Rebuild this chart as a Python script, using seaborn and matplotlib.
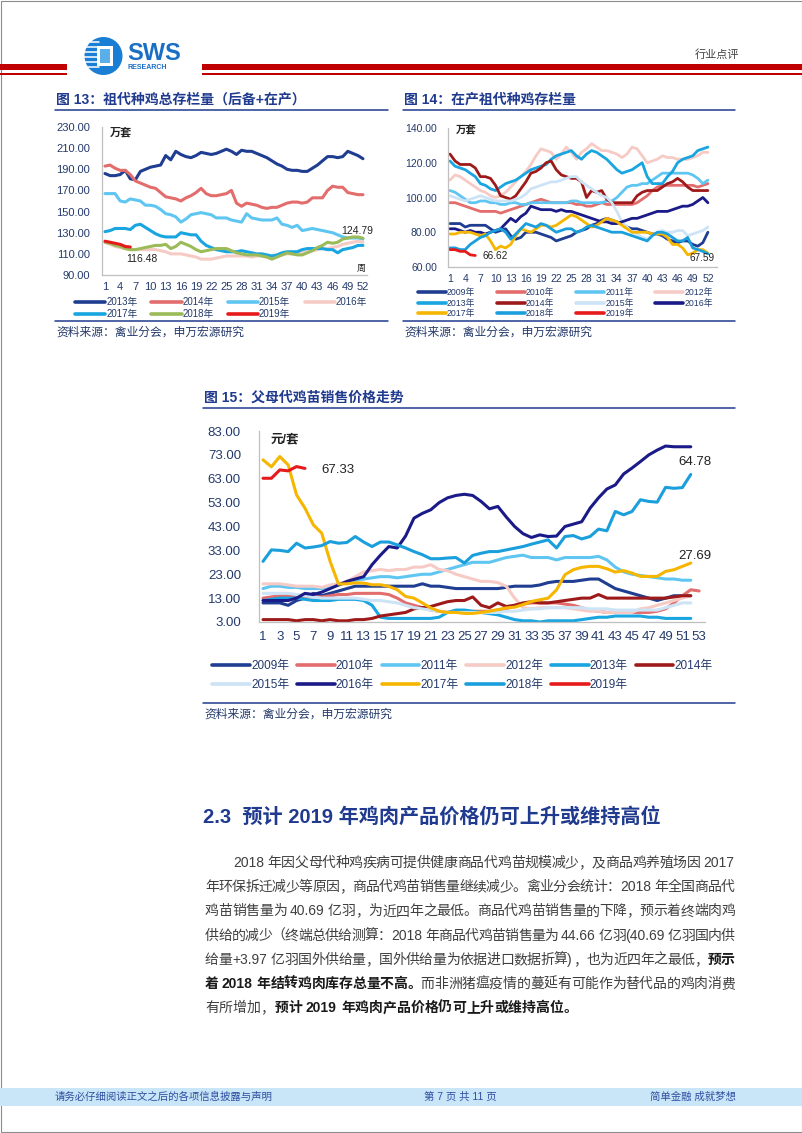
import re
import matplotlib
matplotlib.use("Agg")
import matplotlib.pyplot as plt
from matplotlib.patches import Rectangle, Ellipse
from matplotlib.lines import Line2D
import pandas as pd
import seaborn as sns

sns.set_theme(style="white")
plt.rcParams["font.family"] = ["Liberation Sans", "Noto Sans CJK SC"]

W, H = 802, 1133

# ---------------- 图13 祖代种鸡总存栏量 (万套), 周 1-52 ----------------
c13_2013 = [186, 184, 184, 185, 189, 181, 180, 188, 190, 192, 193, 194, 203, 199, 207, 204, 202, 201, 203, 206,
            205, 204, 205, 207, 209, 207, 204, 208, 207, 207, 205, 203, 201, 198, 195, 193, 190, 189, 189, 188,
            188, 191, 194, 198, 202, 202, 201, 202, 207, 205, 203, 200]
c13_2014 = [193, 194, 191, 189, 189, 185, 179, 177, 175, 173, 172, 168, 164, 163, 162, 160, 163, 165, 168, 172,
            167, 165, 165, 166, 167, 170, 158, 155, 158, 157, 156, 154, 153, 154, 154, 156, 158, 159, 159, 158,
            159, 163, 163, 163, 170, 174, 173, 173, 168, 167, 166, 166]
c13_2015 = [167, 167, 167, 160, 159, 162, 161, 160, 156, 156, 155, 152, 148, 147, 145, 140, 143, 147, 148, 149,
            148, 147, 144, 144, 144, 142, 141, 140, 148, 144, 143, 142, 142, 142, 144, 138, 137, 135, 137, 132,
            133, 134, 133, 132, 131, 130, 128, 126, 125, 125, 125, 124]
c13_2016 = [121, 119, 117, 116, 115, 114, 114, 114, 114, 114, 114, 113, 112, 110, 110, 110, 109, 108, 107, 105,
            105, 105, 106, 107, 108, 108, 108, 108, 108, 107, 108, 108, 107, 107, 108, 109, 110, 110, 110, 111,
            112, 113, 114, 115, 115, 116, 117, 119, 120, 121, 122, 121]
c13_2017 = [131, 132, 134, 134, 134, 133, 137, 138, 135, 132, 129, 127, 126, 126, 126, 130, 129, 128, 128, 122,
            118, 116, 114, 113, 112, 112, 112, 113, 112, 111, 110, 110, 109, 108, 109, 111, 112, 112, 112, 114,
            115, 115, 115, 115, 114, 114, 111, 114, 115, 116, 118, 118]
c13_2018 = [121, 120, 118, 117, 115, 114, 114, 115, 116, 117, 118, 118, 119, 115, 117, 121, 119, 117, 114, 112,
            113, 114, 115, 115, 115, 113, 111, 110, 109, 109, 109, 108, 107, 105, 107, 109, 111, 110, 109, 109,
            111, 113, 116, 118, 121, 120, 121, 124, 125, 126, 126, 124.79]
c13_2019 = [122, 121, 120, 119, 117, 116.48]

# ---------------- 图14 在产祖代种鸡存栏量 (万套), 周 1-52 ----------------
c14_2009 = [85, 85, 85, 83, 84, 84, 84, 84, 82, 80, 81, 82, 78, 76, 77, 80, 80, 80, 79, 78,
            77, 75, 76, 77, 78, 80, 81, 82, 84, 85, 87, 88, 87, 86, 85, 83, 82, 82, 81, 80,
            79, 79, 78, 76, 75, 74, 75, 75, 73, 72, 74, 80]
c14_2010 = [97, 97, 96, 95, 94, 93, 92, 92, 92, 92, 91, 92, 93, 94, 95, 96, 97, 98, 99, 98,
            97, 97, 97, 97, 97, 96, 96, 95, 95, 96, 97, 96, 96, 96, 96, 96, 96, 97, 99, 101,
            104, 106, 107, 107, 107, 107, 107, 107, 107, 106, 107, 108]
c14_2011 = [104, 103, 101, 99, 97, 97, 98, 98, 97, 97, 96, 96, 97, 97, 96, 96, 97, 97, 97, 97,
            97, 97, 97, 97, 98, 98, 97, 97, 97, 97, 97, 98, 98, 100, 103, 106, 107, 107, 108, 108,
            110, 112, 114, 114, 114, 114, 114, 114, 113, 111, 108, 110]
c14_2012 = [110, 113, 112, 110, 108, 106, 104, 103, 101, 100, 101, 103, 106, 109, 112, 115, 119, 124, 128, 127,
            126, 122, 125, 129, 126, 122, 126, 128, 131, 129, 127, 127, 126, 125, 123, 125, 129, 128, 124, 120,
            121, 122, 124, 123, 123, 122, 122, 122, 123, 124, 126, 126]
c14_2013 = [121, 118, 117, 116, 114, 112, 108, 107, 105, 104, 106, 108, 109, 110, 112, 114, 116, 117, 118, 119,
            122, 124, 125, 126, 127, 124, 122, 125, 127, 126, 124, 122, 119, 116, 114, 115, 116, 118, 120, 112,
            108, 108, 108, 112, 115, 120, 122, 123, 124, 127, 128, 129]
c14_2014 = [125, 121, 119, 119, 119, 117, 112, 112, 111, 107, 101, 100, 99, 101, 105, 109, 114, 115, 117, 120,
            121, 116, 113, 112, 111, 111, 109, 100, 104, 103, 104, 99, 97, 97, 97, 97, 97, 101, 103, 104,
            104, 104, 106, 108, 109, 111, 109, 106, 104, 104, 104, 104]
c14_2015 = [101, 100, 99, 98, 99, 100, 101, 100, 99, 98, 98, 98, 98, 99, 100, 102, 105, 106, 107, 108,
            109, 109, 110, 111, 112, 112, 109, 107, 105, 103, 101, 100, 97, 92, 86, 83, 80, 79, 77, 76,
            78, 80, 81, 80, 80, 81, 81, 78, 79, 80, 81, 83]
c14_2016 = [82, 82, 81, 80, 81, 80, 80, 79, 80, 81, 82, 85, 88, 86, 89, 91, 95, 94, 93, 93,
            93, 92, 93, 92, 92, 91, 90, 89, 88, 87, 86, 86, 85, 85, 86, 87, 88, 88, 89, 90,
            91, 92, 92, 92, 93, 94, 95, 95, 96, 98, 100, 97]
c14_2017 = [79, 79, 80, 80, 80, 79, 78, 79, 75, 70, 72, 71, 73, 78, 82, 81, 80, 82, 84, 84,
            83, 84, 86, 88, 90, 89, 87, 85, 83, 84, 86, 88, 87, 86, 84, 82, 80, 80, 80, 80,
            79, 79, 79, 77, 73, 73, 71, 67, 68, 70, 70, 68]
c14_2018 = [71, 71, 70, 70, 73, 75, 77, 78, 80, 81, 82, 80, 76, 79, 82, 85, 84, 83, 85, 84,
            82, 80, 81, 82, 82, 80, 81, 83, 84, 83, 82, 81, 80, 80, 80, 79, 78, 77, 76, 75,
            78, 80, 80, 79, 77, 75, 75, 77, 71, 70, 69, 67.59]
c14_2019 = [70, 70, 69, 69, 67, 66.62]

# ---------------- 图15 父母代鸡苗销售价格 (元/套), 周 1-53 ----------------
c15_2009 = [11, 11, 11, 10, 12, 13, 15, 14, 15, 16, 17, 18, 18, 18, 18, 18, 18, 18, 18, 19,
            18, 18, 17.5, 17, 17, 17, 17, 17, 17, 17.5, 18, 18, 18, 18.5, 19.5, 20, 20, 20, 20.5, 21,
            21, 19, 17, 16, 15, 14, 13, 12, 13, 14, 14, 14]
c15_2010 = [13, 13.5, 14, 14, 14, 13.5, 13.5, 13.5, 14, 14.5, 14.5, 15, 15, 15, 15, 14.5, 13, 11, 10, 9,
            8, 7.5, 7, 7, 7, 7.5, 7.5, 7.5, 8, 8.5, 10, 10.5, 11, 11, 11, 11, 10.5, 10, 9, 8,
            7.5, 7, 7, 7, 7, 7, 7, 7.5, 8.5, 11, 14, 16.5, 16]
c15_2011 = [17, 18, 18, 17.5, 17.5, 17, 17, 17, 18, 18.5, 19.5, 20.5, 21, 21.5, 22, 22, 21.5, 22, 22.5, 23,
            23, 24, 25, 26, 27, 28, 28, 28, 29, 30, 30.5, 31, 30, 30, 30, 29, 30, 30, 30, 30,
            30.5, 29, 26, 24, 23, 22.5, 22, 21.5, 21, 21, 20.5, 20.5]
c15_2012 = [19, 19, 19, 18.5, 18, 18, 18, 17.5, 18.5, 19, 20, 22, 24, 24.5, 25, 24.5, 25, 25, 26, 26,
            27, 25, 24.5, 23, 22, 21, 20, 20, 19.5, 18, 13, 9, 8.5, 9, 9, 9, 9, 8.5, 8, 7.5,
            7.5, 7, 7, 7, 7, 8.5, 9, 10, 11, 12, 13, 14]
c15_2013 = [12, 12.5, 13, 13, 13, 12.5, 12, 12, 12, 12.5, 12.5, 12.5, 12, 10, 5, 4.5, 4.5, 4.5, 4.5, 4.5,
            4.5, 5, 7, 8, 8, 7.5, 7, 6.5, 6, 5, 4, 3.5, 3.5, 3, 3.5, 3.5, 3.5, 3.5, 4, 4.5,
            5, 5, 5.5, 5.5, 5.5, 5.5, 5, 5, 4.5, 4.5, 4.5, 4.5]
c15_2014 = [4, 4, 4, 4, 3.5, 4, 4, 3.5, 4, 3.5, 3.5, 4, 4, 4.5, 5.5, 6, 6.5, 7, 8.5, 9,
            9.5, 10.5, 11.5, 12, 12, 13.5, 10, 9, 11, 9.5, 10, 11, 11.5, 11, 11, 11.5, 12, 12.5, 13, 13,
            14.5, 13, 13, 13, 13, 13, 13, 13, 13, 13.5, 14, 14]
c15_2015 = [15, 15, 15, 15, 14.5, 14, 13.5, 13, 13, 13, 13, 13, 12.5, 12, 12, 11.5, 11, 10, 9, 8.5,
            8, 7.5, 7, 7, 7, 7, 7, 7, 7, 7.5, 7.5, 8, 8.5, 8.5, 9, 9, 9, 9, 9, 8.5,
            8.5, 8.5, 8, 8, 8, 8, 8, 8, 9, 10, 11, 11]
c15_2016 = [12, 12, 12, 12, 13, 15, 14.5, 15.5, 17, 18.5, 20, 21, 22, 27, 31, 34.6, 34, 39, 46.5, 48.5,
            50, 53, 55, 56, 56.5, 56, 53.5, 50.4, 51.4, 47, 43, 40, 38.4, 39.5, 38.8, 39, 43, 44, 45, 50.7,
            55, 58.7, 60.4, 65, 67.5, 70.2, 73, 75, 76.7, 76.4, 76.4, 76.4]
c15_2017 = [70.9, 68, 72.3, 68.8, 56.2, 50.7, 43.7, 40.2, 28.4, 18.9, 19, 19.4, 19.3, 18.6, 18.6, 17.9, 16.5, 13.7, 13, 11,
            8.9, 7.5, 7, 7, 6.6, 6.6, 7, 7.5, 8.2, 8.9, 9.2, 10.3, 11.6, 12.3, 13, 16.5, 22.8, 24.9, 25.9, 26.3,
            26.3, 25.3, 23.9, 24.5, 23.5, 22.1, 22.1, 22.1, 24.2, 24.9, 26.3, 27.69]
c15_2018 = [28.4, 33.2, 33, 32.5, 36, 34, 34.4, 35, 36.7, 36, 36.3, 38.8, 36.5, 34.6, 36.5, 36.5, 35.3, 34, 32.5, 31.2,
            29.5, 29.5, 29.8, 30, 27.7, 30.9, 31.8, 32.5, 32.5, 33.2, 33.9, 34.6, 35.6, 36.5, 37.4, 34, 38.8, 39.2, 37.8, 38.8,
            41.9, 41.2, 49.3, 47.9, 49.3, 54.2, 53.5, 53.2, 59.4, 59, 59.3, 64.78]
c15_2019 = [63.2, 63.2, 66.7, 66.3, 68.1, 67.33]

ticks_13 = list(range(1, 53, 3))
ticks_15 = list(range(1, 54, 2))

COL = {"2009年": "#1f3d91", "2010年": "#e36c6c", "2011年": "#5fc6f2", "2012年": "#f6cbc6",
       "2013年": "#18a5e0", "2014年": "#9e1a1a", "2015年": "#cde3f6", "2016年": "#1a1a88",
       "2017年": "#f6b600", "2018年": "#1a9fdc", "2019年": "#e61a1a"}
COL13 = {"2013年": "#1f3d91", "2014年": "#e36c6c", "2015年": "#5fc6f2", "2016年": "#f6cbc6",
         "2017年": "#18a5e0", "2018年": "#9bbb59", "2019年": "#e61a1a"}

s13 = {"2013年": c13_2013, "2014年": c13_2014, "2015年": c13_2015, "2016年": c13_2016,
       "2017年": c13_2017, "2018年": c13_2018, "2019年": c13_2019}
s14 = {"2009年": c14_2009, "2010年": c14_2010, "2011年": c14_2011, "2012年": c14_2012,
       "2013年": c14_2013, "2014年": c14_2014, "2015年": c14_2015, "2016年": c14_2016,
       "2017年": c14_2017, "2018年": c14_2018, "2019年": c14_2019}
s15 = {"2009年": c15_2009, "2010年": c15_2010, "2011年": c15_2011, "2012年": c15_2012,
       "2013年": c15_2013, "2014年": c15_2014, "2015年": c15_2015, "2016年": c15_2016,
       "2017年": c15_2017, "2018年": c15_2018, "2019年": c15_2019}

NAVY = "#1f3a8f"
TICK = "#243a6b"

fig = plt.figure(figsize=(W / 100, H / 100), dpi=100)
bg = fig.add_axes([0, 0, 1, 1])
bg.set_xlim(0, W)
bg.set_ylim(H, 0)
bg.axis("off")
renderer = fig.canvas.get_renderer()


def chart(box, series, colors, lw, xlim, ylim, yticks, xticks, fs, ypad, xpad):
    x0, y0, x1, y1 = box
    ax = fig.add_axes([x0 / W, 1 - y1 / H, (x1 - x0) / W, (y1 - y0) / H])
    frames = [pd.DataFrame({"week": range(1, len(v) + 1), "value": v, "year": k}) for k, v in series.items()]
    df = pd.concat(frames, ignore_index=True)
    sns.lineplot(data=df, x="week", y="value", hue="year", hue_order=list(series), palette=colors,
                 linewidth=lw, legend=False, errorbar=None, sort=False, ax=ax)
    ax.set_xlim(*xlim)
    ax.set_ylim(*ylim)
    ax.set_xticks(xticks)
    ax.set_yticks(yticks)
    ax.set_yticklabels([f"{v:.2f}" for v in yticks])
    ax.set_xlabel("")
    ax.set_ylabel("")
    ax.set_facecolor("none")
    for s in ["top", "right"]:
        ax.spines[s].set_visible(False)
    for s in ["left", "bottom"]:
        ax.spines[s].set_color("#bfbfbf")
        ax.spines[s].set_linewidth(0.9)
    ax.tick_params(length=0, labelsize=fs, labelcolor=TICK)
    ax.tick_params(axis="y", pad=ypad)
    ax.tick_params(axis="x", pad=xpad)
    return ax


def legend(ax, colors, order, ncol, anchor, fs, hl, cs, ls):
    labels = [list(colors)[i] for i in order]
    handles = [Line2D([], [], color=colors[l], lw=2.6) for l in labels]
    ax.legend(handles, labels, ncol=ncol, loc="upper left", bbox_to_anchor=(anchor[0] / W, 1 - anchor[1] / H),
              bbox_transform=fig.transFigure, frameon=False, fontsize=fs, handlelength=hl, handletextpad=0.1,
              columnspacing=cs, labelspacing=ls, borderpad=0, borderaxespad=0, labelcolor=TICK)


# ---- header / footer / frame ----
bg.add_patch(Rectangle((0.5, 0.5), W - 1, H - 1.5, fill=False, ec="#8c8c8c", lw=0.8))
for x0, x1 in [(0, 67), (202, W)]:
    bg.add_patch(Rectangle((x0, 63.5), x1 - x0, 6, color="#c00000", lw=0))
    bg.add_patch(Rectangle((x0, 73), x1 - x0, 1.6, color="#c00000", lw=0))
bg.add_patch(Ellipse((103.5, 56), 38, 38, color="#1a7fd4", lw=0))
for yy in range(42, 72, 5):
    bg.plot([84, 99], [yy, yy], color="white", lw=1.1)
bg.add_patch(Rectangle((97, 46), 16, 20, color="white", lw=0))
bg.add_patch(Rectangle((100, 49), 10, 14, color="#5aaeea", lw=0))
bg.text(127, 54, "SWS", fontsize=17, fontweight="bold", color="#1a6fc4", va="center", ha="left")
bg.text(128, 67.5, "RESEARCH", fontsize=5, fontweight="bold", color="#1a6fc4", va="center", ha="left")
bg.text(717, 55, "行业点评", fontsize=8, color="#404040", va="center", ha="center")

bg.add_patch(Rectangle((0, 1088), W, 18, color="#c9e6f8", lw=0))
bg.text(55, 1097, "请务必仔细阅读正文之后的各项信息披露与声明", fontsize=7.5, color="#2e4fa0", va="center")
bg.text(424, 1097, "第 7 页 共 11 页", fontsize=7.5, color="#2e4fa0", va="center")
bg.text(650, 1097, "简单金融 成就梦想", fontsize=7.5, color="#2e4fa0", va="center")

# ---- chart titles, rules, sources ----
for x0, x1, yt, title in [(55, 388, 100, "图 13：祖代种鸡总存栏量（后备+在产）"),
                          (403, 735, 100, "图 14：在产祖代种鸡存栏量"),
                          (203, 735, 398, "图 15：父母代鸡苗销售价格走势")]:
    bg.text(x0 + 1, yt, title, fontsize=10, fontweight="bold", color=NAVY, va="center")
    bg.plot([x0, x1], [yt + 10, yt + 10], color=NAVY, lw=1.1)
for x0, x1, ys in [(55, 388, 321), (403, 735, 321), (203, 735, 703)]:
    bg.plot([x0, x1], [ys, ys], color=NAVY, lw=1.1)
    bg.text(x0 + 1, ys + 12, "资料来源：禽业分会，申万宏源研究", fontsize=8.5, color=TICK, va="center")

# ---- 图13 ----
ax13 = chart((102, 127, 367, 275), s13, COL13, 2.2, (0.41, 52.8), (90, 230), list(range(90, 231, 20)),
             ticks_13, 8, 8.5, 5)
legend(ax13, COL13, [0, 4, 1, 5, 2, 6, 3], 4, (75, 297.5), 7, 3.1, 1.45, 0.2)
ax13.text(4.2, 225, "万套", fontsize=8, fontweight="bold", color="#222222", ha="center", va="center")
ax13.text(50.8, 131.6, "124.79", fontsize=7.5, color="#222222", ha="center", va="center")
ax13.text(8.3, 105.1, "116.48", fontsize=7.5, color="#222222", ha="center", va="center")
ax13.text(51.6, 96.6, "周", fontsize=6.5, color="#222222", ha="center", va="center")

# ---- 图14 ----
ax14 = chart((448, 128, 717, 267), s14, COL, 2.0, (0.6, 53.8), (60, 140), list(range(60, 141, 20)),
             ticks_13, 7.5, 8, 5)
legend(ax14, COL, [0, 4, 8, 1, 5, 9, 2, 6, 10, 3, 7], 4, (418, 288.5), 6.3, 3.2, 2.5, 0.13)
ax14.text(4.2, 138.3, "万套", fontsize=7.5, fontweight="bold", color="#222222", ha="center", va="center")
ax14.text(9.9, 66.3, "66.62", fontsize=7.2, color="#222222", ha="center", va="center")
ax14.text(50.8, 65.2, "67.59", fontsize=7.2, color="#222222", ha="center", va="center")

# ---- 图15 ----
ax15 = chart((259, 431, 705, 622), s15, COL, 2.2, (0.52, 53.7), (3, 83), list(range(3, 84, 10)),
             ticks_15, 9.5, 13, 6.5)
legend(ax15, COL, [0, 6, 1, 7, 2, 8, 3, 9, 4, 10, 5], 6, (212, 660), 8.5, 3.2, 0.65, 0.59)
ax15.text(3.6, 79.6, "元/套", fontsize=9, fontweight="bold", color="#222222", ha="center", va="center")
ax15.text(9.9, 66.7, "67.33", fontsize=9.5, color="#222222", ha="center", va="center")
ax15.text(52.5, 70, "64.78", fontsize=9.5, color="#222222", ha="center", va="center")
ax15.text(52.5, 30.6, "27.69", fontsize=9.5, color="#222222", ha="center", va="center")

# ---- section 2.3 ----
bg.text(203, 817, "2.3  预计 2019 年鸡肉产品价格仍可上升或维持高位", fontsize=14.5, fontweight="bold",
        color=NAVY, va="center")

para = [
    [("2018 年因父母代种鸡疾病可提供健康商品代鸡苗规模减少，及商品鸡养殖场因 2017", False)],
    [("年环保拆迁减少等原因，商品代鸡苗销售量继续减少。禽业分会统计：2018 年全国商品代", False)],
    [("鸡苗销售量为 40.69 亿羽，为近四年之最低。商品代鸡苗销售量的下降，预示着终端肉鸡", False)],
    [("供给的减少（终端总供给测算：2018 年商品代鸡苗销售量为 44.66 亿羽(40.69 亿羽国内供", False)],
    [("给量+3.97 亿羽国外供给量，国外供给量为依据进口数据折算)，也为近四年之最低，", False), ("预示", True)],
    [("着 2018 年结转鸡肉库存总量不高。", True), ("而非洲猪瘟疫情的蔓延有可能作为替代品的鸡肉消费", False)],
    [("有所增加，", False), ("预计 2019 年鸡肉产品价格仍可上升或维持高位。", True)],
]
FS = 10
EM = FS * 100 / 72


def text_line(segs, x0, y, x1=None):
    toks = []
    for s, b in segs:
        for t in re.findall(r"[0-9A-Za-z.+()]+| |.", s):
            toks.append((t, b))
    arts, widths = [], []
    for t, b in toks:
        if t == " ":
            arts.append(None)
            widths.append(0.25 * EM)
            continue
        a = bg.text(x0, y, t, fontsize=FS, fontweight="bold" if b else "normal",
                    color="#1a1a1a" if b else "#3f3f3f", va="baseline", ha="left")
        if t.isascii():
            widths.append(a.get_window_extent(renderer).width + 1)
        else:
            widths.append(EM)
        arts.append(a)
    gap = 0
    if x1 is not None:
        gap = (x1 - x0 - sum(widths)) / (len(toks) - 1)
    x = x0
    for (t, b), a, w in zip(toks, arts, widths):
        if a is not None:
            if t.isascii() or t in "，。：、）":
                a.set_x(x)
            elif t == "（":
                a.set_ha("right")
                a.set_x(x + w)
            else:
                a.set_ha("center")
                a.set_x(x + w / 2)
        x += w + gap


for i, segs in enumerate(para):
    y = 862 + 24.2 * i + 5
    x0 = 233 if i == 0 else 205
    text_line(segs, x0, y, None if i == len(para) - 1 else 735)

fig.savefig("out.png", dpi=100)
